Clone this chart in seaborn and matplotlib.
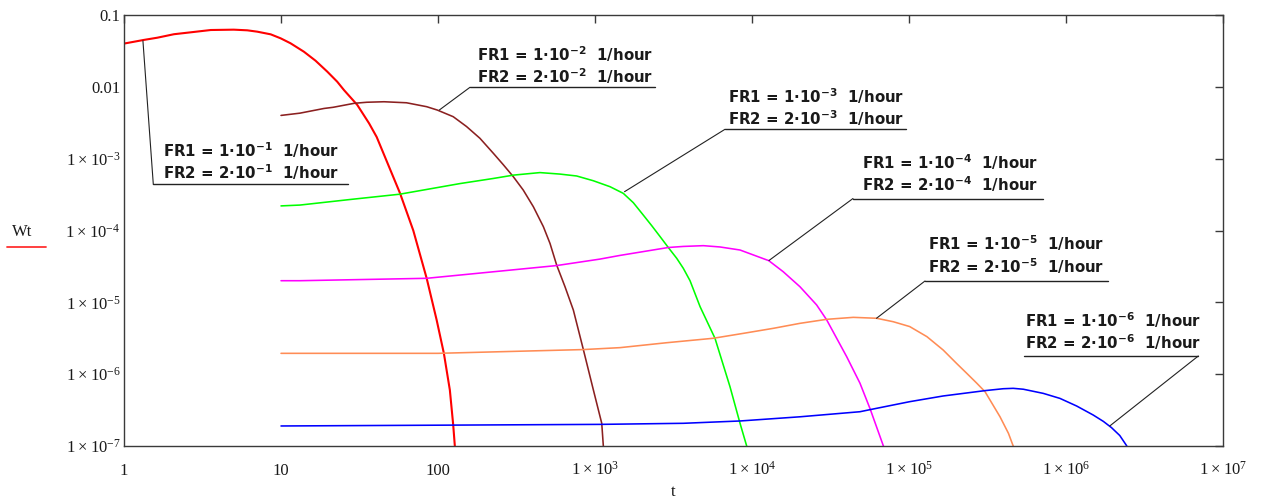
import numpy as np
import pandas as pd
import matplotlib
matplotlib.use("Agg")
import matplotlib.pyplot as plt
import seaborn as sns
from matplotlib.lines import Line2D
from matplotlib.ticker import FixedLocator, NullLocator

# ---------------- data ----------------
red_t = [1, 1.34, 1.63, 2.08, 2.66, 3.57, 5.0, 6.1, 7.06, 8.6, 9.96, 11.5, 14.0, 16.6,
         19.7, 22.8, 25.2, 30.6, 36.4, 40.7, 57.3, 69.6, 84.7, 98, 109, 119, 125, 128]
red_w = [0.040, 0.045, 0.0483, 0.054, 0.0574, 0.0618, 0.0625, 0.0612, 0.0586, 0.0538,
         0.0473, 0.0404, 0.0308, 0.0231, 0.0163, 0.0118, 0.0090, 0.0056, 0.0031, 0.0020,
         3.3e-4, 1.0e-4, 2.16e-5, 5.7e-6, 1.95e-6, 6.0e-7, 1.96e-7, 1.0e-7]

brown_t = [10, 13.2, 18.8, 21.5, 29.3, 35.2, 45.3, 63, 84.7, 99, 125, 152, 185, 225,
           261, 302, 349, 405, 469, 517, 570, 644, 728, 843, 977, 1104, 1130]
brown_w = [4.0e-3, 4.3e-3, 5.0e-3, 5.19e-3, 5.9e-3, 6.1e-3, 6.2e-3, 6.0e-3, 5.29e-3,
           4.75e-3, 3.84e-3, 2.8e-3, 1.92e-3, 1.19e-3, 8.2e-4, 5.6e-4, 3.66e-4, 2.14e-4,
           1.13e-4, 6.6e-5, 3.3e-5, 1.65e-5, 7.8e-6, 2.2e-6, 6.0e-7, 2.07e-7, 1.0e-7]

green_t = [10, 13.2, 27.5, 57, 138, 225, 302, 446, 598, 764, 975, 1247, 1514, 1754,
           2030, 2296, 2600, 2930, 3315, 3650, 4030, 4670, 5810, 7240, 8390, 9250]
green_w = [2.2e-4, 2.26e-4, 2.7e-4, 3.2e-4, 4.5e-4, 5.3e-4, 5.9e-4, 6.4e-4, 6.1e-4,
           5.74e-4, 4.93e-4, 4.07e-4, 3.29e-4, 2.44e-4, 1.64e-4, 1.17e-4, 8.2e-5, 5.8e-5,
           4.1e-5, 2.98e-5, 2.0e-5, 8.7e-6, 3.16e-6, 6.7e-7, 2.07e-7, 1.0e-7]

magenta_t = [10, 13.2, 84.7, 570, 1076, 1443, 2930, 3650, 4900, 6250, 8390, 12800,
             15800, 20200, 25800, 29900, 40100, 48700, 56500, 68700]
magenta_w = [2.0e-5, 2.0e-5, 2.16e-5, 3.25e-5, 4.0e-5, 4.5e-5, 5.8e-5, 6.0e-5, 6.15e-5,
             5.9e-5, 5.35e-5, 3.8e-5, 2.67e-5, 1.65e-5, 9.2e-6, 5.7e-6, 1.75e-6, 7.5e-7,
             3.3e-7, 1.0e-7]

orange_t = [10, 100, 843, 1443, 2860, 5670, 8810, 13700, 20200, 29900, 44200, 62200,
            79400, 1.01e5, 1.3e5, 1.65e5, 2.01e5, 2.33e5, 2.7e5, 3.05e5, 3.8e5, 4.3e5,
            4.61e5]
orange_w = [1.95e-6, 1.95e-6, 2.2e-6, 2.34e-6, 2.74e-6, 3.16e-6, 3.7e-6, 4.35e-6, 5.1e-6,
            5.8e-6, 6.18e-6, 6.0e-6, 5.37e-6, 4.6e-6, 3.33e-6, 2.17e-6, 1.41e-6, 1.03e-6,
            7.5e-7, 5.7e-7, 2.55e-7, 1.5e-7, 1.0e-7]

blue_t = [10, 1076, 3650, 8390, 20200, 48700, 57800, 1.01e5, 1.65e5, 3.05e5,
          3.98e5, 4.61e5, 5.35e5, 7.17e5, 9.15e5, 1.17e6, 1.49e6, 1.73e6, 1.95e6, 2.2e6,
          2.44e6]
blue_w = [1.9e-7, 2.0e-7, 2.07e-7, 2.23e-7, 2.55e-7, 3.0e-7, 3.24e-7, 4.14e-7,
          4.97e-7, 5.9e-7, 6.27e-7, 6.35e-7, 6.17e-7, 5.4e-7, 4.6e-7, 3.6e-7, 2.7e-7,
          2.2e-7, 1.8e-7, 1.4e-7, 1.0e-7]

series_t = [red_t, brown_t, green_t, magenta_t, orange_t, blue_t]
series_w = [red_w, brown_w, green_w, magenta_w, orange_w, blue_w]
series_names = ["1e-1", "1e-2", "1e-3", "1e-4", "1e-5", "1e-6"]
colors = ["#FF0000", "#8B2020", "#00FF00", "#FF00FF", "#FF8C55", "#0000FF"]

fr_exponents = ["-1", "-2", "-3", "-4", "-5", "-6"]
# leader tips on the curves (data coords)
tip_t = [1.32, 102, 1542, 12820, 62100, 1.9e6]
tip_w = [0.0438, 4.76e-3, 3.47e-4, 3.82e-5, 6.0e-6, 1.9e-7]

x_ticks = [1, 10, 100, 1e3, 1e4, 1e5, 1e6, 1e7]
x_tick_labels = ["1", "10", "100", r"$1\times10^{3}$", r"$1\times10^{4}$",
                 r"$1\times10^{5}$", r"$1\times10^{6}$", r"$1\times10^{7}$"]
y_ticks = [1e-7, 1e-6, 1e-5, 1e-4, 1e-3, 0.01, 0.1]
y_tick_labels = [r"$1\times10^{-7}$", r"$1\times10^{-6}$", r"$1\times10^{-5}$",
                 r"$1\times10^{-4}$", r"$1\times10^{-3}$", "0.01", "0.1"]

# ---------------- style ----------------
sns.set_style("white")
plt.rcParams["mathtext.default"] = "regular"
plt.rcParams["font.family"] = ["Liberation Serif", "DejaVu Serif"]

W, H = 1262, 503
def fx(px):
    return px / W
def fy(py):
    return 1 - py / H

fig = plt.figure(figsize=(W / 100, H / 100), dpi=100)
ax = fig.add_axes([fx(124), fy(446), (1223 - 124) / W, (446 - 15) / H])

frames = []
for name, t, w in zip(series_names, series_t, series_w):
    frames.append(pd.DataFrame({"t": t, "W": w, "series": name}))
df = pd.concat(frames, ignore_index=True)

for name, c in zip(series_names, colors):
    sub = df[df["series"] == name]
    sns.lineplot(data=sub, x="t", y="W", color=c, lw=1.5 if name == "1e-1" else 1.15,
                 estimator=None, sort=False, legend=False, ax=ax)

ax.set_xscale("log")
ax.set_yscale("log")
ax.set_xlim(1, 1e7)
ax.set_ylim(1e-7, 0.1)

ax.xaxis.set_major_locator(FixedLocator(x_ticks))
ax.yaxis.set_major_locator(FixedLocator(y_ticks))
ax.xaxis.set_minor_locator(NullLocator())
ax.yaxis.set_minor_locator(NullLocator())
ax.set_xticklabels(x_tick_labels)
ax.set_yticklabels(y_tick_labels)

spine_c = "#3a3a3a"
for s in ax.spines.values():
    s.set_color(spine_c)
    s.set_linewidth(1.0)
    s.set_visible(True)
ax.tick_params(which="major", direction="in", length=5.5, width=1.0, color=spine_c,
               top=True, right=True, labelsize=12, labelcolor="#1a1a1a")
ax.tick_params(axis="x", pad=21)
ax.tick_params(axis="y", pad=2.5)
for lab in ax.get_xticklabels():
    lab.set_verticalalignment("baseline")

ax.set_xlabel("t", fontsize=12, color="#1a1a1a")
ax.xaxis.set_label_coords(0.5, (446 - 484) / 431)
ax.set_ylabel("Wt", fontsize=12, rotation=0, color="#1a1a1a", ha="center", va="center")
ax.yaxis.set_label_coords((22.5 - 124) / 1099, (446 - 231.7) / 431)
fig.add_artist(Line2D([fx(7), fx(46)], [fy(246.7), fy(246.7)], color="#FF3030", lw=1.3))

# ---------------- annotations ----------------
# (text left x, baseline1, baseline2, underline x0, x1, y, leader from x)
ann_layout = [
    (162.7, 157.0, 179.5, 153.3, 348.3, 184.3, 153.3),
    (476.7, 60.5, 83.5, 470.0, 655.0, 87.3, 470.0),
    (728.0, 102.5, 125.0, 725.0, 906.0, 129.3, 725.0),
    (862.0, 168.5, 191.5, 853.0, 1043.0, 198.5, 853.0),
    (928.3, 250.0, 273.5, 925.0, 1108.0, 281.0, 925.0),
    (1025.0, 326.5, 349.5, 1024.0, 1198.3, 356.0, 1198.3),
]
ann_font = dict(family=["DejaVu Sans"], weight="bold", size=10.8, color="#1a1a1a")
for (tx, b1, b2, u0, u1, uy, lx), ex, tt, tw in zip(ann_layout, fr_exponents, tip_t, tip_w):
    fig.text(fx(tx), fy(b1), "FR1 = 1·10$^{%s}$  1/hour" % ex, ha="left", va="baseline",
             **ann_font)
    fig.text(fx(tx), fy(b2), "FR2 = 2·10$^{%s}$  1/hour" % ex, ha="left",
             va="baseline", **ann_font)
    fig.add_artist(Line2D([fx(u0), fx(u1)], [fy(uy), fy(uy)], color="#222222", lw=1.0))
    ax.annotate("", xy=(tt, tw), xycoords="data", xytext=(fx(lx), fy(uy)),
                textcoords="figure fraction",
                arrowprops=dict(arrowstyle="-", color="#222222", lw=0.8,
                                shrinkA=0, shrinkB=0),
                annotation_clip=False)

fig.savefig("out.png", dpi=100)
